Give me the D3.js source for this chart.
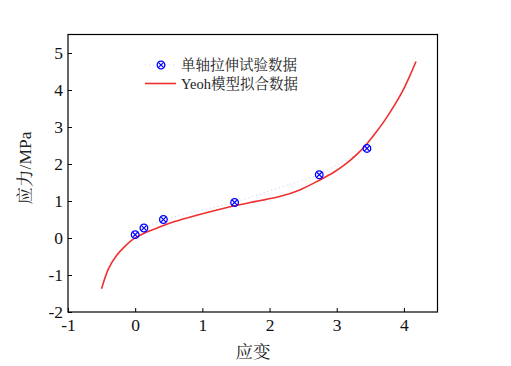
<!DOCTYPE html>
<html><head><meta charset="utf-8">
<script src="https://cdn.jsdelivr.net/npm/d3@7"></script>
<style>body{margin:0;background:#fff}</style>
</head><body>
<svg id="c" width="511" height="366"></svg>
<script>
const expStrain = [0, 0.13, 0.42, 1.48, 2.74, 3.45];
const expStress = [0.09, 0.27, 0.5, 0.96, 1.71, 2.42];
const fitStrain = [-0.5, -0.4, -0.28, -0.15, -0.03, 0.08, 0.17, 0.3, 0.41, 0.6, 0.81, 1.1, 1.48, 1.8, 2.15, 2.45, 2.74, 2.95, 3.14, 3.3, 3.45, 3.6, 3.73, 3.86, 3.98, 4.08, 4.18];
const fitStress = [-1.37, -0.84, -0.48, -0.22, -0.03, 0.08, 0.16, 0.25, 0.33, 0.45, 0.56, 0.7, 0.87, 0.99, 1.12, 1.3, 1.56, 1.77, 2.01, 2.26, 2.55, 2.89, 3.22, 3.59, 3.97, 4.35, 4.77];
const xTicks = [-1, 0, 1, 2, 3, 4];
const yTicks = [-2, -1, 0, 1, 2, 3, 4, 5];
const legendLabels = ["单轴拉伸试验数据", "Yeoh模型拟合数据"];

const svg = d3.select("#c");
const L = 68, R = 437.5, T = 34.5, B = 312;
const x = d3.scaleLinear().domain([-1, 4.5]).range([L, R]);
const y = d3.scaleLinear().domain([-2, 5.5]).range([B, T]);
const serif = "'Liberation Serif','Times New Roman',serif";
const cjk = "'Liberation Serif','Noto Serif CJK SC','Noto Sans CJK SC',serif";
const fmt = d => String(d);

svg.append("rect").attr("x", L).attr("y", T).attr("width", R - L).attr("height", B - T)
  .attr("fill", "none").attr("stroke", "#000").attr("stroke-width", 1.2);

const xa = svg.append("g").attr("transform", `translate(0,${B})`)
  .call(d3.axisBottom(x).tickValues(xTicks).tickSize(-4).tickPadding(7).tickFormat(fmt));
const ya = svg.append("g").attr("transform", `translate(${L},0)`)
  .call(d3.axisLeft(y).tickValues(yTicks).tickSize(-4).tickPadding(5).tickFormat(fmt));
[xa, ya].forEach(a => {
  a.select(".domain").remove();
  a.selectAll("line").attr("stroke", "#000").attr("stroke-width", 1);
  a.selectAll("text").attr("font-family", serif).attr("font-size", 17.5).attr("fill", "#111");
});

const line = d3.line().x(d => x(d[0])).y(d => y(d[1]));
svg.append("path").datum(expStrain.map((v, i) => [v, expStress[i]]))
  .attr("d", line).attr("fill", "none").attr("stroke", "#c8c8ff").attr("stroke-width", 1)
  .attr("stroke-dasharray", "1,3");

svg.append("path").datum(fitStrain.map((v, i) => [v, fitStress[i]]))
  .attr("d", d3.line().x(d => x(d[0])).y(d => y(d[1])).curve(d3.curveCatmullRom.alpha(0.5)))
  .attr("fill", "none").attr("stroke", "#f03030").attr("stroke-width", 1.6);

function marker(g, cx, cy) {
  const r = 3.8, k = r * 0.7071;
  g.append("circle").attr("cx", cx).attr("cy", cy).attr("r", r)
    .attr("fill", "none").attr("stroke", "#0000ff").attr("stroke-width", 1.3);
  g.append("path").attr("d", `M${cx - k},${cy - k}L${cx + k},${cy + k}M${cx - k},${cy + k}L${cx + k},${cy - k}`)
    .attr("stroke", "#0000ff").attr("stroke-width", 1.2);
}
const mg = svg.append("g");
expStrain.forEach((v, i) => marker(mg, x(v), y(expStress[i])));

const lg = svg.append("g");
lg.append("line").attr("x1", 145).attr("x2", 176).attr("y1", 65).attr("y2", 65)
  .attr("stroke", "#c8c8ff").attr("stroke-dasharray", "1,3");
marker(lg, 161, 65);
lg.append("line").attr("x1", 145).attr("x2", 176).attr("y1", 83.5).attr("y2", 83.5)
  .attr("stroke", "#f03030").attr("stroke-width", 1.6);
legendLabels.forEach((t, i) => {
  lg.append("text").attr("x", 181).attr("y", 65 + i * 18.5).attr("dy", "0.35em")
    .attr("font-family", cjk).attr("font-size", 14.5).attr("fill", "#222").text(t);
});

svg.append("text").attr("x", 253).attr("y", 352).attr("dy", "0.35em").attr("text-anchor", "middle")
  .attr("font-family", cjk).attr("font-size", 17.5).attr("fill", "#222").text("应变");
svg.append("text").attr("transform", "translate(25,168) rotate(-90)").attr("dy", "0.35em")
  .attr("text-anchor", "middle").attr("font-family", cjk).attr("font-size", 17.5).attr("fill", "#222").text("应力/MPa");
</script>
</body></html>
